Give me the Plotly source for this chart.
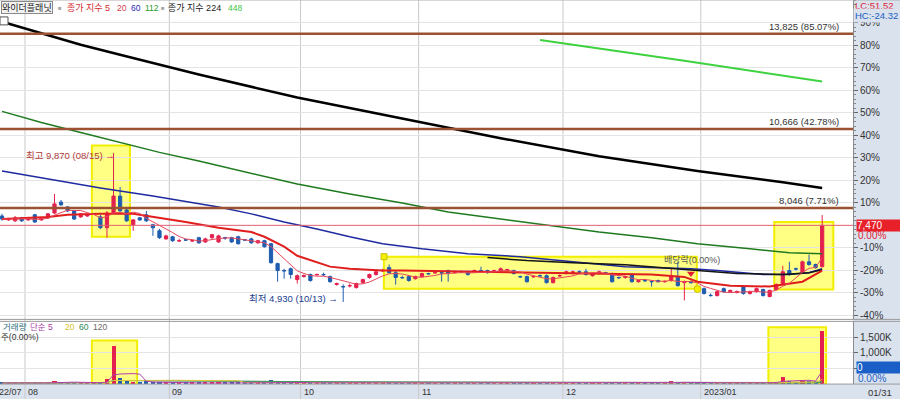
import plotly.graph_objects as go
import pandas as pd

W, H = 900, 401
FONT = "Liberation Sans, Noto Sans CJK KR, sans-serif"

# ---------------- data ----------------
open_ = [7780, 7650, 7620, 7720, 7650, 7820, 7650, 7720, 7880, 8240,
         8080, 7950, 7750, 7780, 7840, 7750, 7390, 7880, 8440, 7980,
         7490, 7720, 7820, 7490, 7290, 7020, 7090, 6950, 6990, 6950,
         7060, 6920, 7060, 6920, 7060, 7060, 7090, 6990, 7020, 6890,
         6960, 6860, 6200, 5970, 6030, 5670, 5770, 5840, 5830, 5840,
         5770, 5510, 5440, 5460, 5410, 5570, 5740, 5840, 5960, 6070,
         5900, 5740, 5770, 5700, 5770, 5870, 5890, 5900, 5970, 5900,
         5930, 5930, 5930, 5970, 5970, 5930, 5970, 5970, 5970, 5770,
         5770, 5760, 5800, 5800, 5570, 5790, 5870, 5870, 5930, 5930,
         5800, 5870, 5900, 5870, 5740, 5740, 5840, 5600, 5640, 5610,
         5640, 5600, 5640, 5770, 5570, 5600, 5380, 5370, 5150, 5140,
         5370, 5270, 5240, 5440, 5210, 5270, 5340, 5110, 5340, 5510,
         5970, 6030, 5900, 6260, 6170, 6100]
high = [7850, 7720, 7780, 7750, 7750, 7850, 7750, 7880, 8510, 8310,
        8110, 7980, 7880, 7850, 7880, 7820, 7950, 9870, 8740, 8050,
        7680, 7750, 7950, 7520, 7350, 7160, 7120, 7020, 7020, 6990,
        7090, 7060, 7190, 7160, 7090, 7090, 7120, 7020, 7060, 6990,
        6990, 6890, 6230, 6030, 6070, 5840, 5840, 5870, 5870, 5900,
        5800, 5570, 5510, 5540, 5570, 5700, 5870, 5970, 6030, 6170,
        5970, 5800, 5800, 5800, 5900, 5900, 5930, 5930, 6000, 5970,
        5970, 5970, 6000, 6100, 6000, 6000, 6070, 6030, 6000, 5800,
        5800, 5800, 5840, 5840, 5770, 5840, 5970, 5970, 5970, 6030,
        5900, 5970, 5930, 5900, 5770, 5800, 5870, 5670, 5670, 5640,
        5670, 5640, 6030, 6260, 5640, 5640, 5410, 5410, 5210, 5310,
        5410, 5340, 5310, 5470, 5310, 5410, 5370, 5340, 5540, 6130,
        6260, 6070, 6300, 6500, 6200, 7810]
low = [7620, 7620, 7580, 7580, 7620, 7550, 7620, 7680, 7850, 8110,
       7910, 7650, 7720, 7750, 7820, 7350, 7060, 7850, 7910, 7580,
       7290, 7620, 7580, 7120, 7020, 6990, 6920, 6920, 6960, 6920,
       6860, 6890, 7020, 6890, 6990, 6890, 6830, 6960, 6860, 6860,
       6730, 6200, 5600, 5700, 5700, 5540, 5740, 5600, 5800, 5800,
       5570, 5470, 4930, 5410, 5370, 5540, 5700, 5800, 5930, 5870,
       5500, 5700, 5600, 5670, 5740, 5840, 5870, 5600, 5600, 5870,
       5900, 5800, 5900, 5930, 5870, 5900, 5930, 5930, 5840, 5740,
       5570, 5740, 5770, 5540, 5540, 5770, 5840, 5840, 5900, 5800,
       5770, 5840, 5870, 5570, 5700, 5700, 5570, 5570, 5600, 5440,
       5570, 5570, 5600, 5440, 4980, 5540, 5340, 5170, 5110, 5110,
       5240, 5240, 5210, 5170, 5170, 5240, 5110, 5080, 5310, 5470,
       5800, 5970, 5870, 6130, 6030, 6070]
close = [7680, 7680, 7720, 7620, 7720, 7580, 7720, 7850, 8180, 8150,
         7950, 7680, 7850, 7820, 7850, 7390, 7880, 8440, 7950, 7620,
         7650, 7650, 7620, 7390, 7060, 7120, 6960, 6960, 6980, 6960,
         6890, 7020, 7160, 7120, 7050, 6920, 6860, 6980, 6890, 6960,
         6760, 6230, 5970, 5960, 5840, 5800, 5800, 5640, 5840, 5830,
         5600, 5540, 5430, 5470, 5540, 5670, 5840, 5930, 5970, 5900,
         5740, 5730, 5640, 5770, 5870, 5860, 5900, 5890, 5870, 5930,
         5920, 5840, 5970, 5960, 5900, 5970, 6030, 6000, 5870, 5760,
         5600, 5770, 5790, 5570, 5740, 5800, 5930, 5930, 5920, 5840,
         5870, 5930, 5890, 5600, 5730, 5770, 5600, 5640, 5630, 5600,
         5600, 5610, 5770, 5470, 5600, 5570, 5370, 5210, 5140, 5270,
         5270, 5310, 5270, 5210, 5270, 5370, 5140, 5310, 5510, 5930,
         5840, 6020, 6260, 6170, 6070, 7470]
volume_k = [35, 28, 40, 30, 25, 45, 30, 50, 95, 60, 45, 55, 40, 30, 35,
            60, 140, 1210, 170, 90, 70, 50, 75, 45, 55,
            40, 45, 30, 25, 28, 40, 35, 30, 38, 25, 30, 42, 26, 33, 28, 45,
            110, 85, 50, 45, 40, 30, 38, 28, 25, 40, 35, 70, 40, 45, 38, 42, 36, 30,
            45, 50, 30, 35, 28, 32, 25, 22, 30, 35, 24, 20, 28, 22, 26, 24, 22, 30,
            25, 28, 22, 35, 24, 20, 38, 30, 22,
            25, 28, 22, 30, 26, 24, 22, 40, 28, 25, 45, 28, 22, 30, 26, 24, 95, 60,
            70, 40, 50, 45,
            35, 40, 30, 28, 25, 40, 30, 38, 45, 60, 70, 220, 100, 60, 130, 100, 90, 1700]

month_start = [4, 26, 46, 64, 86, 107]
month_label = ["08", "09", "10", "11", "12", "2023/01"]
first_month_label = "2022/07"
last_date_label = "01/31"

base_price = 7470
pct_ticks = [90, 80, 70, 60, 50, 40, 30, 20, 10, -10, -20, -30, -40]
level_prices = [13825, 10666, 8046]
level_labels = ["13,825 (85.07%)", "10,666 (42.78%)", "8,046 (7.71%)"]
high_label = "최고 9,870 (08/15)"
low_label = "최저 4,930 (10/13)"
high_idx, low_idx = 17, 52
div_idx, div_price, div_label = 105, 5870, "배당락(0.00%)"

ma20_x = [0, 7, 10, 15, 20, 23, 28, 33, 38, 40, 43, 45, 48, 50, 53, 56, 58, 61, 71, 87, 99, 104, 106, 111, 117, 122, 125]
ma20_y = [7680, 7750, 7820, 7850, 7850, 7750, 7580, 7390, 7250, 7090, 6760, 6460, 6230, 6100, 6030, 6000, 5970, 5970,
          5930, 5870, 5840, 5760, 5600, 5470, 5440, 5600, 5970]
ma60_x = [0, 7, 15, 23, 33, 38, 43, 48, 53, 58, 64, 71, 79, 87, 95, 105, 109, 116, 120, 123, 125]
ma60_y = [9270, 9000, 8710, 8440, 8080, 7850, 7580, 7350, 7090, 6860, 6690, 6530, 6430, 6260, 6100, 6030, 5970, 5840,
          5840, 5900, 6030]
ma112_x = [0, 6, 12, 19, 24, 30, 38, 45, 53, 61, 68, 76, 84, 91, 99, 106, 114, 120, 125]
ma112_y = [11250, 10880, 10550, 10160, 9890, 9600, 9200, 8840, 8510, 8210, 7910, 7680, 7450, 7250, 7060, 6860, 6690,
           6560, 6530]
ma224_x = [0, 6, 12, 18, 30, 45, 61, 70, 76, 91, 106, 119, 125]
ma224_y = [14220, 13850, 13460, 13130, 12470, 11710, 11020, 10620, 10360, 9760, 9270, 8900, 8710]
ma448_x = [82, 104, 125]
ma448_y = [13620, 12930, 12240]
dark_x = [74, 80, 87, 95, 105, 112, 119, 123, 125]
dark_y = [6400, 6300, 6230, 6160, 5990, 5870, 5840, 5900, 6000]

vol_ticks = [500, 1000, 1500]
vol_ticktext = ["500,000", "1,000K", "1,500K"]

# ---------------- geometry helpers ----------------
def px(x):
    return x / W


def py(y):
    return 1 - y / H


PLOT_R = 853
X_RANGE = [-0.305, 129.7]
PRICE_DOM = [py(321), 1.0]
VOL_DOM = [py(386), py(323)]
PRICE_RANGE = [4350, 14943]
VOL_RANGE = [0, 2010]
AXIS_BG = "#dae2ed"
RED = "#e3204e"
BLUE = "#1f5db0"

idx = list(range(len(close)))
s_close = pd.Series(close)
ma5 = s_close.rolling(5, min_periods=1).mean()
s_vol = pd.Series(volume_k)
vma = {n: s_vol.rolling(n, min_periods=1).mean() for n in (5, 20, 60, 120)}

fig = go.Figure()

# moving averages (price)
for xs, ys, col, w in [(ma224_x, ma224_y, "#000000", 2.5),
                       (ma448_x, ma448_y, "#3fd23f", 2),
                       (ma112_x, ma112_y, "#1e7a1e", 1.5),
                       (ma60_x, ma60_y, "#1f2aa0", 1.5),
                       (dark_x, dark_y, "#151515", 1.5),
                       (ma20_x, ma20_y, "#e01e1e", 2)]:
    fig.add_trace(go.Scatter(x=xs, y=ys, mode="lines", line=dict(color=col, width=w),
                             hoverinfo="skip", showlegend=False))
fig.add_trace(go.Scatter(x=idx, y=ma5, mode="lines", line=dict(color="#e8455a", width=1),
                         hoverinfo="skip", showlegend=False))

fig.add_trace(go.Candlestick(
    x=idx, open=open_, high=high, low=low, close=close,
    increasing=dict(line=dict(color=RED, width=1), fillcolor=RED),
    decreasing=dict(line=dict(color=BLUE, width=1), fillcolor=BLUE),
    showlegend=False, hoverinfo="skip"))

# dividend marker
fig.add_trace(go.Scatter(x=[div_idx], y=[div_price], mode="markers",
                         marker=dict(symbol="triangle-down", color="#e02030", size=7),
                         hoverinfo="skip", showlegend=False))

# volume
vcolors = [RED if c >= o else BLUE for o, c in zip(open_, close)]
fig.add_trace(go.Bar(x=idx, y=volume_k, marker=dict(color=vcolors, line=dict(width=0)),
                     width=0.62, yaxis="y2", showlegend=False, hoverinfo="skip"))
for n, col in [(120, "#8a8a8a"), (60, "#3c9a5a"), (20, "#e0c83c"), (5, "#b03cb0")]:
    fig.add_trace(go.Scatter(x=idx, y=vma[n], mode="lines", line=dict(color=col, width=1),
                             yaxis="y2", hoverinfo="skip", showlegend=False))

shapes = []
# axis backgrounds
shapes.append(dict(type="rect", xref="paper", yref="paper", x0=px(PLOT_R), x1=1, y0=0, y1=1,
                   fillcolor=AXIS_BG, line=dict(width=0), layer="below"))
shapes.append(dict(type="rect", xref="paper", yref="paper", x0=0, x1=1, y0=0, y1=py(386),
                   fillcolor=AXIS_BG, line=dict(width=0), layer="below"))
# highlight boxes
YEL = dict(fillcolor="rgba(255,255,90,0.75)", line=dict(color="#f2ee00", width=2), layer="below")
for x0, x1, y0, y1 in [(13.7, 19.5, 7090, 10120), (58.2, 105.9, 5370, 6430), (117.7, 126.7, 5340, 7580)]:
    shapes.append(dict(type="rect", xref="x", yref="y", x0=x0, x1=x1, y0=y0, y1=y1, **YEL))
for x0, x1, y0, y1 in [(13.7, 20.6, 0, 1400), (116.8, 125.6, 0, 1820)]:
    shapes.append(dict(type="rect", xref="x", yref="y2", x0=x0, x1=x1, y0=y0, y1=y1, **YEL))
# month separators
for m in month_start:
    shapes.append(dict(type="line", xref="x", yref="paper", x0=m - 0.5, x1=m - 0.5, y0=0, y1=1,
                       line=dict(color="#c9c9c9", width=1), layer="below"))
# level lines
for p in level_prices:
    shapes.append(dict(type="line", xref="paper", yref="y", x0=0, x1=px(PLOT_R), y0=p, y1=p,
                       line=dict(color="#9c5232", width=2.5)))
shapes.append(dict(type="line", xref="paper", yref="y", x0=0, x1=px(PLOT_R), y0=base_price, y1=base_price,
                   line=dict(color="#e06070", width=1)))
# panel separators
for yy in (321, 323, 386):
    shapes.append(dict(type="line", xref="paper", yref="paper", x0=0, x1=1, y0=py(yy), y1=py(yy),
                       line=dict(color="#9a9a9a", width=1)))
shapes.append(dict(type="line", xref="paper", yref="paper", x0=0, x1=1, y0=1, y1=1,
                   line=dict(color="#b0b0b0", width=1)))
# selection handles and icon
shapes.append(dict(type="rect", xref="paper", yref="paper", x0=px(381), x1=px(387), y0=py(261), y1=py(255),
                   fillcolor="#f5f000", line=dict(color="#c8c000", width=1)))
shapes.append(dict(type="circle", xref="paper", yref="paper", x0=px(694), x1=px(701), y0=py(294), y1=py(287),
                   fillcolor="#f5f000", line=dict(color="#c8c000", width=1)))
shapes.append(dict(type="rect", xref="paper", yref="paper", x0=px(0), x1=px(8), y0=py(25), y1=py(17),
                   fillcolor="#ffffff", line=dict(color="#555555", width=1)))

ann = []


def text(s, x, y, color="#222", size=9.5, xanchor="left", yref="paper", xref="paper", **kw):
    d = dict(text=s, x=x, y=y, xref=xref, yref=yref, xanchor=xanchor, yanchor="middle",
             showarrow=False, font=dict(family=FONT, size=size, color=color))
    d.update(kw)
    ann.append(d)


# header legend
text("와이더플래닛", px(1), py(8), "#222", 9, bordercolor="#8a8a8a", borderwidth=1, bgcolor="#f2f2f2", borderpad=0)
text("■", px(56), py(8), "#a8a8a8", 6)
text("종가 지수 5", px(65), py(8), "#d42a2a", 9)
text("20", px(115), py(8), "#d0404e", 8.5)
text("60", px(129), py(8), "#2a2ab8", 8.5)
text("112", px(143), py(8), "#2a9a2a", 8.5)
text("■", px(159), py(8), "#a8a8a8", 6)
text("종가 지수 224", px(166), py(8), "#222", 9)
text("448", px(226), py(8), "#44c444", 8.5)

# volume legend
text("거래량", px(1), py(329), "#2f7080", 8.5)
text("단순 5", px(28), py(329), "#a83ca8", 8.5)
text("20", px(63), py(329), "#d6c22e", 8.5)
text("60", px(77), py(329), "#2f8a52", 8.5)
text("120", px(91), py(329), "#6a6a6a", 8.5)
text("주(0.00%)", px(-1), py(339), "#333", 8.5)

# right column labels
text("LC:51.52", px(853), py(6), "#e02030", 9.5)
text("HC:-24.32", px(853), py(16), "#2060c0", 9.5, bgcolor=AXIS_BG)
text("7,470", px(856), base_price, "#ffffff", 10, yref="y", bgcolor="#e8202a", width=44, height=11,
     align="left", borderpad=0)
text("0.00%", px(856), py(237), "#e02030", 10)
text("0", px(856), py(369.5), "#ffffff", 10, bgcolor="#1a5fc8", width=44, height=11, align="left", borderpad=0)
text("0.00%", px(856), py(380), "#1a5fc8", 10)
text(last_date_label, px(866), py(394), "#333", 9.5)

# level labels
for p, lab in zip(level_prices, level_labels):
    text(lab, px(841), p, "#333", 9.5, xanchor="right", yref="y", yshift=7)

# annotations in the chart
text(high_label + " <span style='color:#e02030'>→</span>", px(24), 9870, "#b03a3a", 9.5,
     yref="y", yshift=-3)
text(low_label + " →", low_idx - 0.5, 4930, "#23408f", 9.5, xanchor="right", xref="x", yref="y", yshift=3)
text(div_label, px(662), 6330, "#555", 9, yref="y")

# date labels
text(first_month_label, month_start[0] - 0.5, py(394), "#333", 9, xref="x", xanchor="right", xshift=-1)
for m, lab in zip(month_start, month_label):
    text(lab, m - 0.5, py(394), "#333", 9, xref="x", xanchor="left", xshift=1)

fig.update_layout(
    width=W, height=H, margin=dict(l=0, r=0, t=0, b=0),
    paper_bgcolor="white", plot_bgcolor="white",
    showlegend=False, shapes=shapes, annotations=ann, bargap=0,
    font=dict(family=FONT, size=10, color="#333"),
    xaxis=dict(domain=[0, px(PLOT_R)], range=X_RANGE, showticklabels=False, showgrid=False,
               zeroline=False, showline=False, rangeslider=dict(visible=False), fixedrange=True),
    yaxis=dict(domain=PRICE_DOM, range=PRICE_RANGE, side="right", anchor="x",
               tickmode="array", tickvals=[base_price * (1 + p / 100) for p in pct_ticks],
               ticktext=[f"{p}%" for p in pct_ticks], ticks="outside", ticklen=4, tickcolor="#666",
               showline=True, linecolor="#8a8a8a", showgrid=True, gridcolor="#e4e4e4",
               zeroline=False, tickfont=dict(family=FONT, size=10, color="#333"),
               minor=dict(tickmode="linear", tick0=base_price, dtick=base_price * 0.02, ticks="outside",
                          ticklen=2, tickcolor="#888", showgrid=False), fixedrange=True),
    yaxis2=dict(domain=VOL_DOM, range=VOL_RANGE, side="right", anchor="x",
                tickmode="array", tickvals=vol_ticks, ticktext=vol_ticktext, ticks="outside", ticklen=4,
                tickcolor="#666", showline=True, linecolor="#8a8a8a", showgrid=True, gridcolor="#e4e4e4",
                zeroline=False, tickfont=dict(family=FONT, size=10, color="#333"), fixedrange=True),
)

fig.write_html("out.html", config={"displayModeBar": False},
               post_script="document.body.style.margin='0px';document.body.style.overflow='hidden';")
